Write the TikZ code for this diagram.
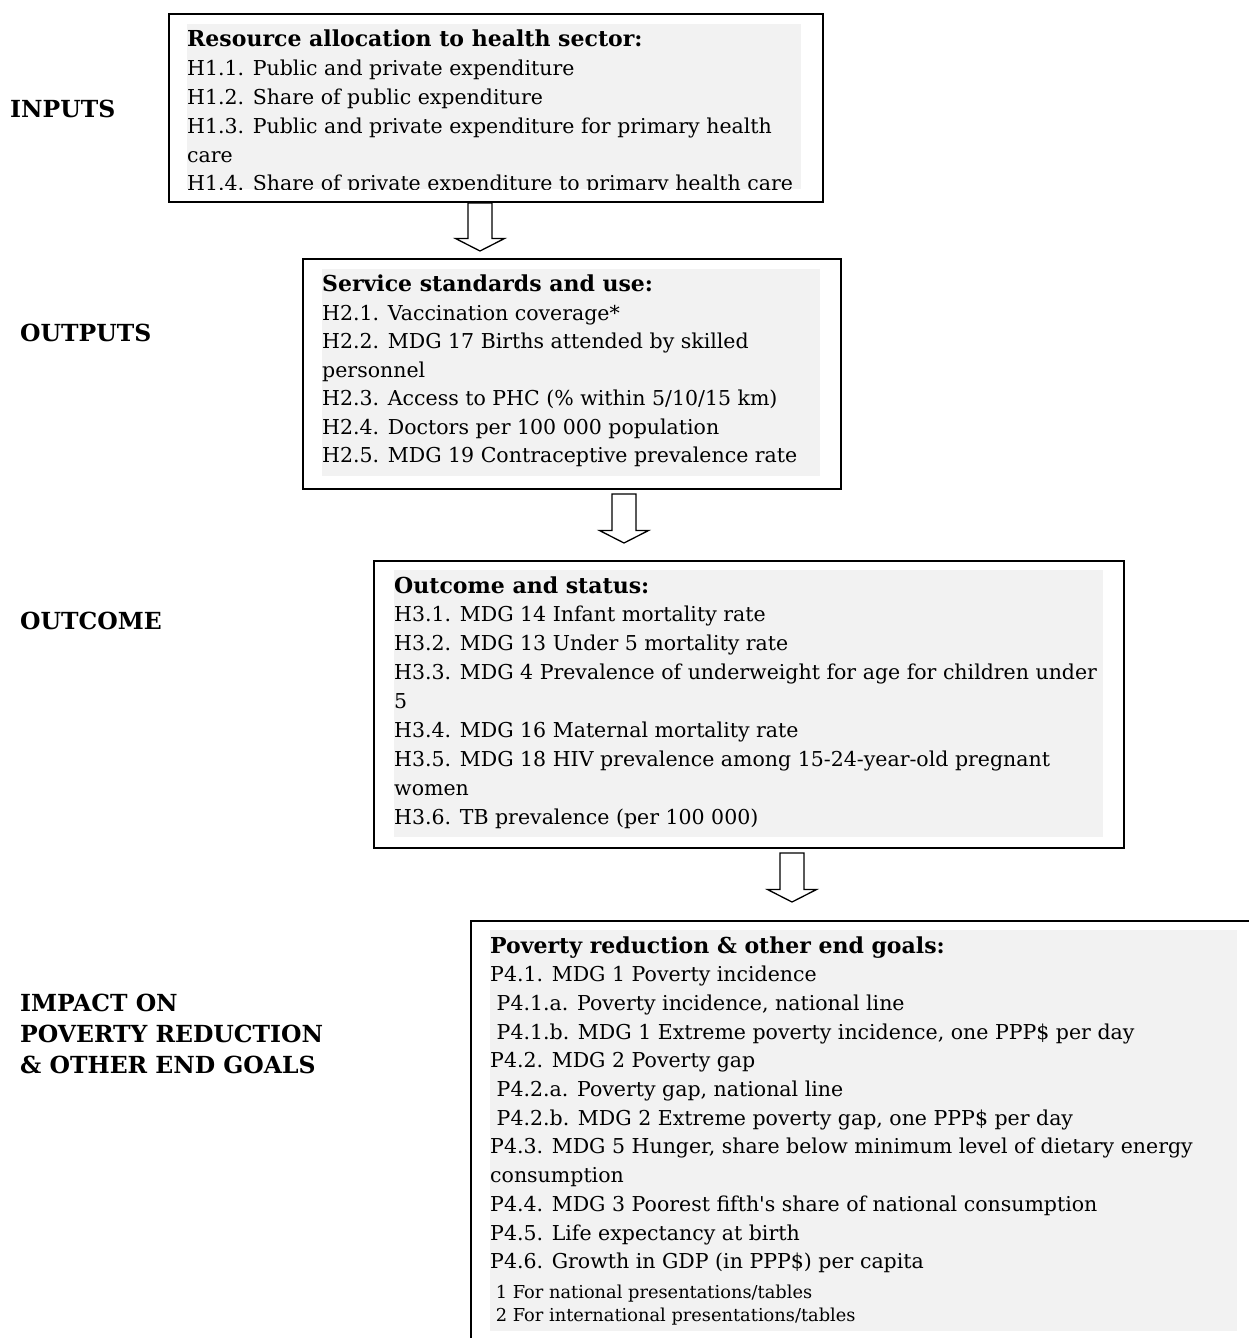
\documentclass[tikz,border=0pt]{standalone}
\usepackage{fontspec}
\setmainfont{DejaVu Serif}
% same face without TeX input mapping, for a straight apostrophe
\newfontfamily\plainserif{DejaVu Serif}
\definecolor{panelgrey}{HTML}{F2F2F2}
\tikzset{
  frame/.style={draw=black, line width=2pt, fill=white, inner sep=0pt, anchor=north west},
  panel/.style={fill=panelgrey},
  bodytext/.style={anchor=base west, inner sep=0pt, font=\fontsize{20.5}{24}\selectfont},
  headtext/.style={anchor=base west, inner sep=0pt, font=\fontsize{22}{26}\selectfont\bfseries},
  notetext/.style={anchor=base west, inner sep=0pt, font=\fontsize{17.8}{21}\selectfont},
  stagelabel/.style={anchor=base west, inner sep=0pt, font=\fontsize{23.5}{28}\selectfont\bfseries},
  blockarrow/.style={draw=black, line width=1.3pt, fill=white, line join=miter},
}
% hollow downward block arrow: centre x, top y, tip y
\newcommand\hollowarrow[3]{%
  \draw[blockarrow] (#1-12,#2) -- (#1+12,#2) -- (#1+12,#3-12.5) -- (#1+24.5,#3-12.5)
    -- (#1,#3) -- (#1-24.5,#3-12.5) -- (#1-12,#3-12.5) -- cycle;}
\begin{document}
\begin{tikzpicture}[x=1pt, y=-1pt]
\useasboundingbox (0,0) rectangle (1248,1338);

% ---------- stage labels ----------
\node[stagelabel] (lbl-in)  at (10,117) {INPUTS};
\node[stagelabel] (lbl-out) at (20,341) {OUTPUTS};
\node[stagelabel] (lbl-oc)  at (20,629) {OUTCOME};
\node[stagelabel] (lbl-im1) at (20,1011) {IMPACT ON};
\node[stagelabel] (lbl-im2) at (20,1042) {POVERTY REDUCTION};
\node[stagelabel] (lbl-im3) at (20,1073) {\& OTHER END GOALS};

% ---------- inputs ----------
\node[frame, minimum width=654pt, minimum height=188pt] (inputs) at (168,13) {};
\begin{scope}
  \clip (187,24) rectangle (801,189);
  \fill[panel] (187,24) rectangle (801,189);
  \node[headtext] (in-head) at (187,47) {Resource allocation to health sector:};
  \foreach \t [count=\i from 0] in {
      {H1.1. Public and private expenditure},
      {H1.2. Share of public expenditure},
      {H1.3. Public and private expenditure for primary health},
      {care},
      {H1.4. Share of private expenditure to primary health care}}
    \node[bodytext] (in-\i) at (187,75.8+28.75*\i) {\t};
\end{scope}

\hollowarrow{480}{203}{251}

% ---------- outputs ----------
\node[frame, minimum width=538pt, minimum height=230pt] (outputs) at (302,258) {};
\fill[panel] (322,269) rectangle (820,476);
\node[headtext] (out-head) at (322,291.7) {Service standards and use:};
\foreach \t [count=\i from 0] in {
    {H2.1. Vaccination coverage*},
    {H2.2. MDG 17 Births attended by skilled},
    {personnel},
    {H2.3. Access to PHC (\% within 5/10/15 km)},
    {H2.4. Doctors per 100 000 population},
    {H2.5. MDG 19 Contraceptive prevalence rate}}
  \node[bodytext] (out-\i) at (322,320.2+28.5*\i) {\t};

\hollowarrow{624}{494}{543}

% ---------- outcome ----------
\node[frame, minimum width=750pt, minimum height=287pt] (outcome) at (373,560) {};
\fill[panel] (394,570) rectangle (1103,837);
\node[headtext] (oc-head) at (394,593) {Outcome and status:};
\foreach \t [count=\i from 0] in {
    {H3.1. MDG 14 Infant mortality rate},
    {H3.2. MDG 13 Under 5 mortality rate},
    {H3.3. MDG 4 Prevalence of underweight for age for children under},
    {5},
    {H3.4. MDG 16 Maternal mortality rate},
    {H3.5. MDG 18 HIV prevalence among 15-24-year-old pregnant},
    {women},
    {H3.6. TB prevalence (per 100 000)}}
  \node[bodytext] (oc-\i) at (394,621.9+28.875*\i) {\t};

\hollowarrow{792}{853}{902}

% ---------- impact ----------
\node[frame, minimum width=820pt, minimum height=450pt] (impact) at (470,919.5) {};
\fill[panel] (490,930) rectangle (1237,1331);
\node[headtext] (im-head) at (490,953) {Poverty reduction \& other end goals:};
\foreach \t [count=\i from 0] in {
    {P4.1. MDG 1 Poverty incidence},
    {\ P4.1.a. Poverty incidence, national line},
    {\ P4.1.b. MDG 1 Extreme poverty incidence, one PPP\$ per day},
    {P4.2. MDG 2 Poverty gap},
    {\ P4.2.a. Poverty gap, national line},
    {\ P4.2.b. MDG 2 Extreme poverty gap, one PPP\$ per day},
    {P4.3. MDG 5 Hunger, share below minimum level of dietary energy},
    {consumption},
    {P4.4. MDG 3 Poorest fifth{\plainserif'}s share of national consumption},
    {P4.5. Life expectancy at birth},
    {P4.6. Growth in GDP (in PPP\$) per capita}}
  \node[bodytext] (im-\i) at (490,981.7+28.7*\i) {\t};
\node[notetext] (im-n1) at (490,1298.3) {\ 1 For national presentations/tables};
\node[notetext] (im-n2) at (490,1321.7) {\ 2 For international presentations/tables};
\end{tikzpicture}
\end{document}
